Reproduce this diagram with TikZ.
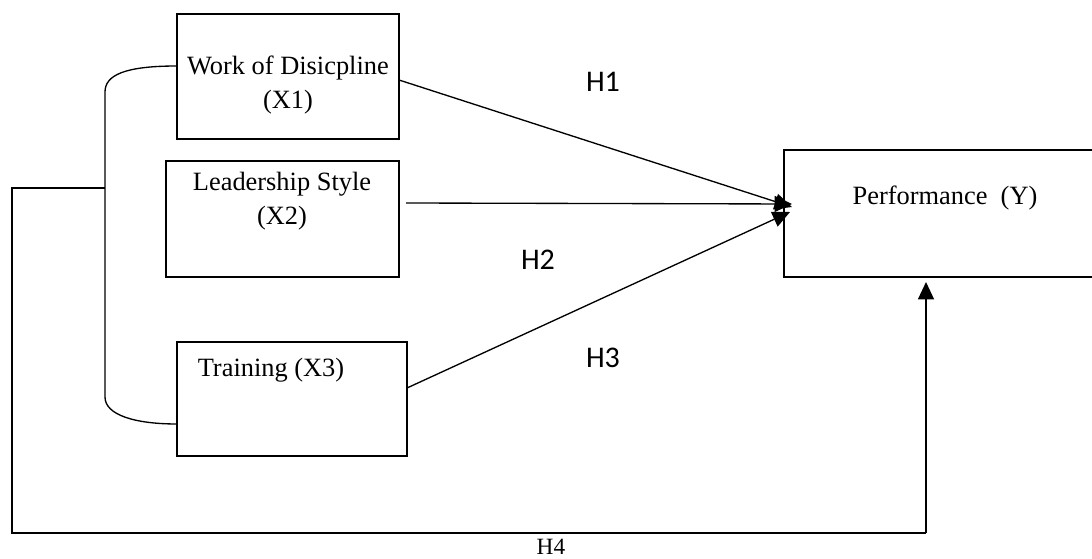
\documentclass[tikz,border=0pt]{standalone}
\usepackage{fontspec}
\setmainfont{Liberation Serif}
\newfontfamily\calib{Carlito}
\usetikzlibrary{arrows.meta}
\begin{document}
\begin{tikzpicture}[x=0.75pt,y=-0.75pt,
  boxst/.style={draw,line width=1pt,inner sep=0pt,outer sep=0pt},
  txt/.style={font=\fontsize{19.8}{25}\selectfont,align=center,inner sep=0pt},
  serlab/.style={font=\fontsize{19.8}{25}\selectfont,inner sep=0pt},
  hlab/.style={font=\calib\fontsize{22.5}{26}\selectfont,inner sep=0pt},
  conn/.style={line width=1pt},
  arr/.style={line width=1pt,-{Triangle[length=13pt,width=12pt]}}]
\useasboundingbox (0,0) rectangle (1092,559);
\clip (0,0) rectangle (1092,559);
% boxes
\node[boxst,minimum width=166.5pt,minimum height=93.75pt] (x1) at (288,76.5) {};
\node[boxst,minimum width=174.75pt,minimum height=87pt] (x2) at (282.5,219) {};
\node[boxst,minimum width=172.5pt,minimum height=85.5pt] (x3) at (292,399) {};
\node[boxst,minimum width=244.5pt,minimum height=95.25pt] (y) at (947,213.5) {};
% texts
\node[txt] (tx1) at (288,85) {Work of Disicpline\\(X1)};
\node[txt] (tx2) at (282,201) {Leadership Style\\(X2)};
\node[serlab] (tx3) at (271,370) {Training (X3)};
\node[serlab] (ty) at (945,198) {Performance~~(Y)};
% labels
\node[hlab] (h1) at (603,82) {H1};
\node[hlab] (h2) at (538,260) {H2};
\node[hlab] (h3) at (603,358) {H3};
\node[serlab,font=\fontsize{17.5}{21}\selectfont] (h4) at (551,547) {H4};
% coordinates
\coordinate (s1) at (399,80);
\coordinate (s2) at (406,203);
\coordinate (s3) at (407,388);
\coordinate (e1) at (792,207);
\coordinate (e2) at (792,204);
\coordinate (e3) at (790,212);
\coordinate (btop) at (105,92);
\coordinate (bbot) at (105,397);
\coordinate (bmid) at (105,188);
\coordinate (lft) at (12,188);
\coordinate (lbot) at (12,533);
\coordinate (rbot) at (926,533);
\coordinate (ytip) at (926,282);
\coordinate (x1in) at (177,66);
\coordinate (x3in) at (177,424);
% arrows
\draw[arr] (s1) -- (e1);
\draw[arr] (s2) -- (e2);
\draw[arr] (s3) -- (e3);
% bracket
\draw[conn] (x1in) .. controls (125,66) and (105,75) .. (btop) -- (bbot)
  .. controls (105,415) and (135,424) .. (x3in);
\draw[conn] (bmid) -- (lft) -- (lbot) -- (rbot);
\draw[arr] (rbot) -- (ytip);
\end{tikzpicture}
\end{document}
